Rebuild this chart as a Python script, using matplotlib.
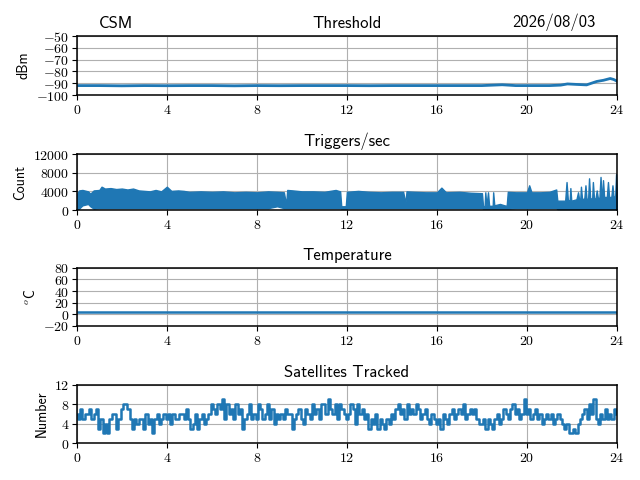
import numpy as np
import matplotlib
matplotlib.use("Agg")
import matplotlib.pyplot as plt
from matplotlib.ticker import FuncFormatter, MultipleLocator

plt.rcParams['font.family'] = ['cmss10', 'DejaVu Sans']
plt.rcParams['mathtext.fontset'] = 'cm'
plt.rcParams['axes.unicode_minus'] = True

# ---------------- data ----------------
thr_t = [0, 1, 2, 3, 4, 5, 6, 7, 8, 9, 10, 11, 12, 13, 14, 15, 16, 17, 18, 18.9, 19.5, 20, 21,
         21.5, 21.8, 22.2, 22.65, 23.1, 23.4, 23.7, 23.85, 24]
thr_v = [-92, -92, -92.2, -92, -92.1, -92, -92, -92.2, -92, -92.1, -92, -92, -92, -92.1, -92, -92,
         -92, -92, -92, -91.3, -92, -92, -92, -91.6, -90.6, -91.0, -91.4, -88.5, -87.5, -86.0,
         -86.8, -88.2]

trig_t = [0.0, 0.1, 0.25, 0.5, 0.6, 0.75, 1.0, 1.1, 1.25, 1.5, 1.75, 2.0, 2.25, 2.5, 2.75, 3.0,
          3.25, 3.5, 3.75, 4.0, 4.2, 4.5, 4.75, 5.0, 5.5, 6.0, 6.5, 7.0, 7.5, 8.0, 8.5, 8.9, 9.2,
          9.3, 9.35, 9.6, 10.0, 10.5, 11.0, 11.5, 11.7, 11.75, 11.95, 12.0, 12.5, 13.0, 13.5,
          14.0, 14.5, 14.6, 14.65, 15.0, 15.5, 16.0, 16.2, 16.4, 17.0, 17.5, 18.0, 18.05, 18.12,
          18.15, 18.2, 18.27, 18.32, 18.48, 18.5, 18.55, 18.8, 19.0, 19.1, 19.15, 19.5, 20.0,
          20.1, 20.2, 20.6, 21.0, 21.3, 21.35, 21.7, 21.76, 21.82, 21.9, 21.93, 21.97, 22.2,
          22.27, 22.32, 22.37, 22.4, 22.45, 22.55, 22.6, 22.65, 22.72, 22.76, 22.81, 22.9,
          22.93, 22.98, 23.05, 23.1, 23.15, 23.22, 23.27, 23.32, 23.35, 23.38, 23.43, 23.55,
          23.6, 23.65, 23.75, 23.8, 23.85, 23.92, 23.96, 24.0]
trig_hi = [3400, 4200, 4300, 4000, 3500, 4200, 4300, 5000, 4600, 4700, 4500, 4600, 4400, 4600, 4200, 4100,
           4000, 4300, 4000, 5000, 4100, 4200, 4100, 3900, 4000, 3900, 4000, 3800, 3900, 3800, 4000, 3900, 3800,
           1200, 4300, 4200, 4000, 4000, 3900, 4300, 4000, 800, 800, 3900, 4100, 3900, 3800,
           3900, 3900, 1500, 4000, 3900, 3800, 3800, 4800, 3800, 3900, 3700, 3600, 800, 800,
           3800, 800, 3800, 900, 900, 3800, 1000, 1300, 1000, 900, 3900, 3800, 3800,
           5300, 3800, 3800, 3900, 4400, 2000, 2000, 6000, 2000, 2200, 4700, 2000, 2300,
           3800, 2200, 2300, 5000, 2300, 2500, 5300, 2300, 2500, 6800, 2500, 2500,
           6000, 2500, 2500, 4200, 2600, 2600, 7100, 2800, 3000, 6400, 2800, 2800,
           6000, 2800, 2800, 5300, 2800, 3000, 7700, 3000]
trig_lo = [200, 300, 1000, 1300, 800, 300, 400, 400, 400, 400, 400, 400, 400, 400, 400, 400,
           400, 400, 400, 400, 400, 400, 400, 400, 400, 400, 400, 400, 400, 400, 400, 800, 400,
           400, 400, 400, 400, 400, 400, 400, 400, 300, 300, 400, 400, 400, 400,
           400, 400, 400, 400, 400, 400, 400, 400, 400, 400, 400, 400, 300, 300,
           300, 300, 300, 300, 300, 300, 300, 300, 300, 300, 300, 400, 400,
           400, 400, 400, 400, 400, 200, 200, 200, 200, 200, 200, 200, 200,
           200, 200, 200, 200, 200, 200, 200, 200, 200, 200, 200, 200,
           200, 200, 200, 200, 200, 200, 200, 200, 200, 200, 200, 200,
           200, 200, 200, 200, 200, 200, 200, 200]

temp_t = [0, 6, 12, 18, 24]
temp_v = [4, 4, 4, 4, 4]

sats = [6, 5, 7, 5, 6, 6, 7, 5, 6, 7,
        3, 5, 2, 4, 2, 5, 6, 6, 3, 5,
        7, 8, 8, 7, 5, 3, 5, 4, 5, 5,
        3, 6, 4, 5, 2, 5, 6, 4, 5, 6,
        5, 6, 4, 6, 5, 5, 6, 6, 5, 7,
        5, 3, 4, 6, 3, 5, 6, 4, 5, 6,
        8, 7, 6, 8, 7, 9, 5, 8, 6, 7,
        5, 8, 6, 7, 3, 5, 6, 8, 5, 6,
        5, 8, 7, 5, 6, 8, 5, 7, 4, 6,
        5, 6, 5, 7, 6, 6, 3, 5, 6, 7,
        5, 4, 7, 6, 5, 8, 6, 7, 5, 8,
        8, 6, 9, 7, 6, 8, 5, 8, 7, 6,
        5, 6, 8, 7, 4, 8, 6, 7, 5, 6,
        3, 5, 4, 6, 3, 5, 4, 3, 5, 4,
        6, 5, 7, 8, 6, 7, 5, 8, 6, 7,
        6, 8, 7, 5, 6, 7, 5, 4, 6, 5,
        4, 5, 3, 6, 5, 4, 6, 7, 5, 6,
        7, 6, 8, 5, 6, 7, 6, 7, 5, 4,
        4, 5, 3, 5, 4, 3, 5, 6, 4, 5,
        7, 6, 5, 7, 8, 6, 7, 5, 6, 9,
        6, 7, 5, 6, 7, 5, 6, 4, 5, 6,
        5, 6, 4, 5, 6, 5, 4, 3, 4, 2,
        2, 3, 2, 4, 5, 6, 7, 5, 8, 6,
        9, 5, 4, 6, 5, 7, 5, 6, 5, 7, 6]
sats_t = np.linspace(0, 24, len(sats))

xticks = [0, 4, 8, 12, 16, 20, 24]
color = '#1f77b4'

# ---------------- figure ----------------
fig = plt.figure(figsize=(6.4, 4.8), dpi=100)
pos = [[0.120, 0.802, 0.844, 0.123],
       [0.120, 0.5625, 0.844, 0.1165],
       [0.120, 0.321, 0.844, 0.121],
       [0.120, 0.077, 0.844, 0.121]]
axes = [fig.add_axes(p) for p in pos]

mfmt = FuncFormatter(lambda v, p: r'$%d$' % int(round(v)))

def style(ax, ylim, ystep, ylabel):
    ax.set_xlim(0, 24)
    ax.set_xticks(xticks)
    ax.set_ylim(*ylim)
    ax.yaxis.set_major_locator(MultipleLocator(ystep))
    ax.xaxis.set_major_formatter(mfmt)
    ax.yaxis.set_major_formatter(mfmt)
    ax.grid(True, color='#b0b0b0', linewidth=0.8)
    ax.set_axisbelow(True)
    ax.set_ylabel(ylabel, fontsize=10)
    for s in ax.spines.values():
        s.set_linewidth(1.1)
    ax.tick_params(labelsize=10, pad=2)

ax = axes[0]
ax.plot(thr_t, thr_v, color=color, linewidth=2)
style(ax, (-100, -50), 10, 'dBm')
ax.set_title('Threshold', fontsize=12)
ax.text(0.04, 1.09, 'CSM', transform=ax.transAxes, fontsize=12, ha='left', va='bottom')
ax.text(0.96, 1.09, '2026/08/03', transform=ax.transAxes, fontsize=12, ha='right', va='bottom')

ax = axes[1]
ax.fill_between(trig_t, trig_lo, trig_hi, color=color, edgecolor=color, linewidth=1)
style(ax, (0, 12000), 4000, 'Count')
ax.set_title('Triggers/sec', fontsize=12)

ax = axes[2]
ax.plot(temp_t, temp_v, color=color, linewidth=1.8)
style(ax, (-20, 80), 20, r'$^o$C')
ax.set_title('Temperature', fontsize=12)

ax = axes[3]
ax.plot(sats_t, sats, color=color, linewidth=1.8, drawstyle='steps-mid')
style(ax, (0, 12), 4, 'Number')
ax.set_title('Satellites Tracked', fontsize=12)

fig.savefig('out.png', dpi=100)
